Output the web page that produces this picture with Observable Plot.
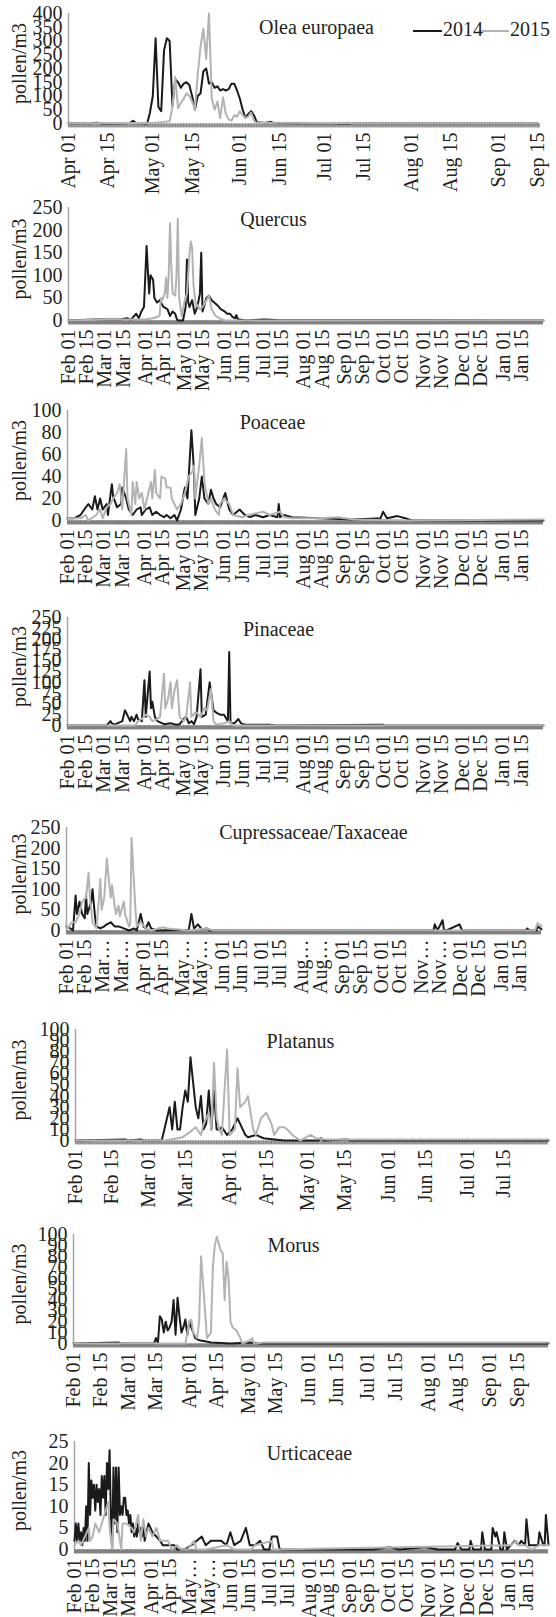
<!DOCTYPE html>
<html><head><meta charset="utf-8">
<script src="https://cdn.jsdelivr.net/npm/d3@7"></script>
<script src="https://cdn.jsdelivr.net/npm/@observablehq/plot@0.6"></script>
<style>
body{margin:0;background:#fff;}
#root{position:relative;width:556px;height:1617px;overflow:hidden;font-family:"Liberation Serif",serif;color:#231f20;}
</style></head><body><div id="root"></div>
<script>
// ---------- tick labels ----------
const yearTicks = ["2014-02-01","2014-02-15","2014-03-01","2014-03-15","2014-04-01","2014-04-15","2014-05-01","2014-05-15","2014-06-01","2014-06-15","2014-07-01","2014-07-15","2014-08-01","2014-08-15","2014-09-01","2014-09-15","2014-10-01","2014-10-15","2014-11-01","2014-11-15","2014-12-01","2014-12-15","2015-01-01","2015-01-15"];
const yearLabels = ["Feb 01","Feb 15","Mar 01","Mar 15","Apr 01","Apr 15","May 01","May 15","Jun 01","Jun 15","Jul 01","Jul 15","Aug 01","Aug 15","Sep 01","Sep 15","Oct 01","Oct 15","Nov 01","Nov 15","Dec 01","Dec 15","Jan 01","Jan 15"];
const cupressLabels = ["Feb 01","Feb 15","Mar…","Mar…","Apr 01","Apr 15","May…","May…","Jun 01","Jun 15","Jul 01","Jul 15","Aug…","Aug…","Sep 01","Sep 15","Oct 01","Oct 15","Nov…","Nov…","Dec 01","Dec 15","Jan 01","Jan 15"];
const urticLabels = ["Feb 01","Feb 15","Mar 01","Mar 15","Apr 01","Apr 15","May…","May…","Jun 01","Jun 15","Jul 01","Jul 15","Aug 01","Aug 15","Sep 01","Sep 15","Oct 01","Oct 15","Nov 01","Nov 15","Dec 01","Dec 15","Jan 01","Jan 15"];
const oleaTicks = ["2014-04-01","2014-04-15","2014-05-01","2014-05-15","2014-06-01","2014-06-15","2014-07-01","2014-07-15","2014-08-01","2014-08-15","2014-09-01","2014-09-15"];
const oleaLabels = ["Apr 01","Apr 15","May 01","May 15","Jun 01","Jun 15","Jul 01","Jul 15","Aug 01","Aug 15","Sep 01","Sep 15"];
const platanusTicks = yearTicks.slice(0, 12);
const platanusLabels = yearLabels.slice(0, 12);
const morusTicks = yearTicks.slice(0, 16);
const morusLabels = yearLabels.slice(0, 16);

// ---------- y ticks ----------
const oleaY = [0,50,100,150,200,250,300,350,400];
const quercusY = [0,50,100,150,200,250];
const poaceaeY = [0,20,40,60,80,100];
const pinaceaeY = [0,25,50,75,100,125,150,175,200,225,250];
const cupressY = [0,50,100,150,200,250];
const platanusY = [0,10,20,30,40,50,60,70,80,90,100];
const morusY = [0,10,20,30,40,50,60,70,80,90,100];
const urticY = [0,5,10,15,20,25];

// ---------- series: [day since season start, pollen/m3] ----------
const olea2014 = [[0,0],[8,1],[10,3],[12,0],[20,1],[22,3],[23,10],[24,2],[28,0],[29,40],[30,100],[31,310],[32,60],[33,45],[34,265],[35,310],[36,300],[37,65],[38,160],[39,150],[40,130],[41,145],[42,150],[43,140],[44,100],[45,50],[46,100],[47,110],[48,190],[49,200],[50,145],[51,150],[52,130],[53,135],[54,120],[55,125],[56,120],[57,125],[58,145],[59,145],[60,120],[61,90],[62,50],[63,20],[64,35],[65,45],[66,30],[67,5],[70,2],[72,6],[73,2],[80,1],[95,2],[96,0],[167,0]];
const olea2015 = [[0,0],[15,2],[30,2],[33,5],[36,8],[37,60],[38,170],[39,55],[40,75],[41,90],[42,110],[43,100],[44,80],[45,50],[46,180],[47,280],[48,345],[49,235],[50,400],[51,90],[52,50],[53,80],[54,20],[55,95],[56,35],[57,15],[58,10],[59,30],[60,25],[61,45],[62,30],[63,20],[64,25],[65,40],[66,10],[67,2],[75,3],[90,2],[100,3],[101,0],[167,0]];
const quercus2014 = [[0,0],[20,2],[40,2],[45,5],[48,2],[52,15],[54,5],[56,20],[58,30],[60,165],[61,110],[62,60],[63,100],[64,95],[65,90],[66,50],[67,45],[68,40],[70,45],[73,30],[76,25],[78,10],[80,20],[82,15],[83,5],[84,0],[88,0],[90,30],[91,135],[92,40],[93,30],[95,45],[97,15],[99,30],[101,60],[102,150],[103,20],[104,30],[106,50],[108,55],[110,45],[112,40],[114,35],[117,25],[120,20],[122,15],[124,15],[126,8],[128,5],[129,12],[130,3],[136,0],[150,2],[160,1],[365,0]];
const quercus2015 = [[0,0],[30,2],[60,3],[65,5],[70,10],[71,50],[72,45],[74,60],[75,95],[76,50],[77,100],[78,215],[79,120],[80,60],[82,55],[83,100],[84,225],[85,50],[87,10],[89,40],[91,60],[93,150],[94,175],[95,160],[96,80],[98,30],[99,35],[101,25],[103,30],[105,40],[107,50],[108,55],[110,25],[112,15],[113,10],[116,5],[120,0],[365,0]];
const poaceae2014 = [[0,2],[5,2],[10,5],[14,12],[16,15],[19,10],[21,22],[23,10],[25,20],[27,10],[30,15],[31,5],[34,33],[35,22],[38,12],[41,15],[42,30],[45,20],[47,10],[50,5],[53,10],[56,12],[57,5],[60,10],[63,12],[65,5],[68,8],[71,5],[74,3],[76,5],[79,2],[82,5],[84,0],[87,10],[90,30],[92,20],[95,82],[97,45],[98,5],[101,20],[103,40],[105,20],[108,15],[110,28],[112,20],[114,15],[117,12],[120,22],[121,25],[124,10],[127,5],[132,10],[136,5],[140,3],[144,5],[150,3],[155,5],[161,3],[162,15],[163,3],[166,5],[172,3],[193,2],[220,1],[240,2],[242,8],[245,2],[253,4],[259,2],[264,0],[365,0]];
const poaceae2015 = [[0,2],[10,2],[14,5],[16,0],[22,5],[25,10],[27,2],[30,12],[33,15],[35,20],[38,25],[40,33],[42,10],[45,65],[46,20],[49,5],[50,35],[52,15],[53,35],[55,20],[57,25],[59,10],[61,20],[64,35],[65,20],[67,46],[68,25],[71,20],[72,40],[75,38],[76,30],[79,30],[80,20],[82,15],[84,10],[87,15],[90,25],[93,40],[96,45],[97,50],[98,20],[101,50],[103,75],[105,35],[108,15],[110,20],[113,10],[116,5],[117,15],[120,20],[124,15],[127,5],[134,3],[139,5],[150,8],[155,5],[163,8],[166,3],[172,2],[193,2],[207,3],[220,1],[264,0],[365,1]];
const pinaceae2014 = [[0,0],[30,0],[33,10],[34,5],[36,2],[42,10],[44,35],[45,30],[48,10],[49,20],[51,10],[53,25],[54,15],[57,10],[59,105],[60,20],[63,125],[64,40],[65,55],[67,20],[69,10],[74,3],[79,5],[83,2],[86,3],[89,15],[91,20],[93,5],[95,10],[97,3],[99,20],[102,130],[103,20],[106,25],[109,100],[112,35],[114,30],[117,25],[120,25],[123,10],[124,170],[125,5],[128,5],[131,15],[133,5],[136,2],[155,2],[160,0],[242,2],[243,0],[365,0]];
const pinaceae2015 = [[0,0],[52,0],[54,10],[57,15],[60,25],[63,20],[65,10],[69,15],[71,20],[74,120],[75,40],[77,60],[79,100],[80,40],[82,80],[84,105],[86,20],[89,10],[91,20],[94,100],[95,20],[98,30],[99,30],[102,20],[105,40],[107,35],[110,85],[112,10],[114,2],[120,5],[124,10],[127,0],[365,0]];
const cupress2014 = [[0,10],[3,5],[5,0],[7,85],[8,40],[10,70],[12,40],[14,30],[15,85],[16,40],[18,60],[19,70],[20,100],[22,30],[23,10],[26,5],[29,10],[31,15],[34,20],[37,10],[40,10],[44,5],[48,0],[52,5],[54,0],[57,40],[59,10],[61,5],[63,20],[65,5],[69,0],[94,2],[96,40],[98,5],[101,15],[104,3],[108,5],[110,0],[282,0],[283,15],[285,0],[289,25],[290,2],[292,0],[302,15],[304,0],[353,0],[354,5],[356,0],[361,0],[362,10],[365,3]];
const cupress2015 = [[0,15],[1,5],[4,20],[7,20],[10,40],[12,70],[15,80],[17,140],[18,80],[20,20],[23,5],[25,80],[26,125],[27,50],[29,80],[31,175],[32,140],[34,80],[35,110],[37,60],[38,40],[40,60],[41,35],[44,70],[45,40],[48,10],[49,15],[50,225],[53,50],[54,10],[57,20],[61,5],[65,0],[74,8],[78,5],[94,0],[108,5],[113,0],[360,0],[362,18],[365,10]];
const platanus2014 = [[0,0],[19,1],[20,0],[25,1],[26,0],[33,0],[34,10],[36,30],[37,10],[38,35],[39,10],[40,10],[41,30],[42,45],[43,35],[44,75],[46,30],[47,20],[48,40],[49,10],[50,15],[51,45],[52,10],[53,45],[54,10],[55,10],[56,12],[58,5],[60,10],[62,20],[63,15],[65,5],[66,3],[69,5],[72,2],[76,1],[80,0],[93,0],[94,2],[95,0],[104,1],[105,0],[181,0]];
const platanus2015 = [[0,0],[34,0],[39,2],[41,3],[44,8],[46,12],[48,5],[49,15],[51,25],[52,10],[53,70],[54,20],[55,10],[56,5],[58,82],[59,5],[61,10],[62,65],[63,30],[65,35],[66,40],[68,10],[69,5],[71,20],[73,25],[75,15],[76,5],[78,12],[80,12],[81,10],[83,5],[86,0],[90,5],[92,2],[96,1],[104,1],[181,1]];
const morus2014 = [[0,0],[23,1],[24,0],[41,0],[42,5],[43,0],[44,25],[45,22],[46,10],[47,20],[48,12],[49,15],[50,20],[51,40],[52,8],[53,42],[54,25],[55,10],[56,15],[57,22],[58,8],[59,20],[60,15],[61,10],[62,5],[64,3],[67,2],[70,1],[80,0],[90,1],[95,0],[242,0]];
const morus2015 = [[0,0],[57,0],[59,20],[60,22],[61,10],[63,5],[64,20],[65,80],[67,30],[68,5],[70,10],[71,70],[72,90],[73,98],[75,85],[76,83],[77,40],[78,75],[79,60],[80,20],[81,15],[83,12],[85,5],[86,0],[90,3],[91,5],[92,0],[97,1],[242,1]];
const urtic2014 = [[0,2],[1,6],[2,2],[3,6],[4,2],[5,4],[6,1],[7,5],[8,2],[9,10],[10,2],[11,20],[12,8],[13,16],[14,12],[15,15],[16,9],[17,15],[18,11],[19,14],[20,8],[21,17],[22,12],[23,17],[24,8],[25,20],[26,14],[27,23],[28,8],[29,0],[30,19],[31,6],[32,19],[33,4],[34,19],[35,8],[36,10],[37,8],[38,12],[39,12],[40,8],[41,9],[42,6],[43,8],[44,4],[45,6],[46,3],[47,5],[48,3],[49,6],[50,4],[51,5],[52,3],[53,6],[54,2],[57,6],[60,4],[63,3],[66,2],[68,1],[77,1],[79,0],[85,0],[90,1],[98,3],[101,1],[105,2],[109,2],[113,2],[117,1],[120,4],[123,1],[128,2],[132,5],[135,1],[139,1],[143,2],[146,0],[150,0],[152,3],[156,3],[158,0],[230,0],[243,0.5],[250,0],[270,0.5],[280,0],[293,0],[295,1.5],[298,0],[304,0],[305,2],[307,0],[313,0],[314,4],[316,0],[321,0],[322,5],[324,3],[325,4],[328,0],[330,0],[331,4],[333,0],[336,1],[339,2],[342,1],[344,2],[347,1],[348,7],[350,1],[352,1],[357,1],[358,4],[361,1],[362,1],[363,8],[365,1]];
const urtic2015 = [[0,1],[3,2],[5,1],[8,3],[11,5],[12,2],[14,3],[16,6],[19,4],[22,7],[25,10],[26,11],[27,5],[29,0],[30,7],[33,6],[36,0],[37,6],[40,6],[44,5],[46,4],[49,8],[51,2],[53,7],[55,3],[57,5],[60,3],[63,5],[66,2],[68,2],[72,2],[75,0],[79,1],[82,0],[87,0],[92,2],[94,0],[101,0],[117,1],[123,0],[136,0],[139,1],[152,2],[153,0],[336,1],[340,2],[342,1],[347,1],[352,0],[358,1],[365,1]];

// ---------- panel setup (layout) ----------
const panels = [
  {title:"Olea europaea", start:"2014-04-01", end:"2014-09-16", ticks:oleaTicks, labels:oleaLabels, yTicks:oleaY, s14:olea2014, s15:olea2015, left:68, right:540, top:13, zero:123, titleX:316, titleDy:20, legend:true, band:"#a3a3a3"},
  {title:"Quercus", start:"2014-02-01", end:"2015-02-01", ticks:yearTicks, labels:yearLabels, yTicks:quercusY, s14:quercus2014, s15:quercus2015, left:68, right:543, top:207, zero:320, titleX:273, titleDy:18, band:"#8c8c8c"},
  {title:"Poaceae", start:"2014-02-01", end:"2015-02-01", ticks:yearTicks, labels:yearLabels, yTicks:poaceaeY, s14:poaceae2014, s15:poaceae2015, left:67, right:543, top:410, zero:520, titleX:272, titleDy:18, band:"#8c8c8c"},
  {title:"Pinaceae", start:"2014-02-01", end:"2015-02-01", ticks:yearTicks, labels:yearLabels, yTicks:pinaceaeY, s14:pinaceae2014, s15:pinaceae2015, left:67, right:543, top:617, zero:725, titleX:278, titleDy:18, band:"#8c8c8c"},
  {title:"Cupressaceae/Taxaceae", start:"2014-02-01", end:"2015-02-01", ticks:yearTicks, labels:cupressLabels, yTicks:cupressY, s14:cupress2014, s15:cupress2015, left:66, right:541, top:827, zero:930, titleX:313, titleDy:11, band:"#8c8c8c"},
  {title:"Platanus", start:"2014-02-01", end:"2014-08-01", ticks:platanusTicks, labels:platanusLabels, yTicks:platanusY, s14:platanus2014, s15:platanus2015, left:75, right:548, top:1029, zero:1140, titleX:300, titleDy:18, band:"#a3a3a3"},
  {title:"Morus", start:"2014-02-01", end:"2014-10-01", ticks:morusTicks, labels:morusLabels, yTicks:morusY, s14:morus2014, s15:morus2015, left:73, right:548, top:1234, zero:1343, titleX:293, titleDy:17, band:"#8c8c8c"},
  {title:"Urticaceae", start:"2014-02-01", end:"2015-02-01", ticks:yearTicks, labels:urticLabels, yTicks:urticY, s14:urtic2014, s15:urtic2015, left:74, right:548, top:1441, zero:1549, titleX:309, titleDy:18, band:"#8c8c8c"}
];

const W = 556;
const FONT = "'Liberation Serif', 'Times New Roman', serif";
const TXT = "#231f20";
function parseDate(s){ const [y,m,d] = s.split("-").map(Number); return new Date(Date.UTC(y, m-1, d)); }
function series(start, pairs){ const s = parseDate(start); return pairs.map(([d,v]) => ({date: new Date(Date.UTC(s.getUTCFullYear(), s.getUTCMonth(), s.getUTCDate() + d)), v})); }

const root = document.getElementById("root");
panels.forEach(p => {
  const mT = 20, mB = 100;
  const h = p.zero - p.top;
  const x0 = parseDate(p.start), x1 = parseDate(p.end);
  const tickDates = p.ticks.map(parseDate);
  const labelMap = new Map(tickDates.map((d,i) => [+d, p.labels[i]]));
  const daily = d3.utcDay.range(x0, x1);
  const chart = Plot.plot({
    width: W, height: mT + h + mB,
    marginLeft: p.left, marginRight: W - p.right, marginTop: mT, marginBottom: mB,
    style: {background: "transparent", overflow: "visible", fontFamily: FONT, fontSize: "20px", color: TXT},
    x: {type: "utc", domain: [x0, x1], label: null},
    y: {domain: [0, p.yTicks[p.yTicks.length-1]], label: null},
    marks: [
      Plot.ruleX([x0], {stroke: "#a6a6a6", strokeWidth: 1.5}),
      Plot.axisY({ticks: p.yTicks, tickSize: 0, tickPadding: 6, label: null, fill: TXT, fontSize: 20}),
      Plot.ruleY([0], {stroke: p.band, strokeWidth: 4, dy: 2}),
      Plot.axisX({ticks: daily, tickSize: 4, tickFormat: () => "", stroke: "#7a7a7a", strokeWidth: 0.8, label: null}),
      Plot.axisX({ticks: tickDates, tickFormat: d => labelMap.get(+d), tickRotate: -90, tickSize: 0, tickPadding: 9, label: null, fill: TXT, fontSize: 20}),
      Plot.line(series(p.start, p.s14), {x: "date", y: "v", stroke: "#1a1a1a", strokeWidth: 2}),
      Plot.line(series(p.start, p.s15), {x: "date", y: "v", stroke: "#b3b3b3", strokeWidth: 2}),
      Plot.text([p.title], {frameAnchor: "top-left", dx: p.titleX - p.left, dy: p.titleDy, textAnchor: "middle", lineAnchor: "bottom", fill: TXT, fontSize: 20}),
      Plot.text(["pollen/m3"], {frameAnchor: "left", dx: 19 - p.left, dy: -5, rotate: -90, textAnchor: "middle", lineAnchor: "middle", fill: TXT, fontSize: 20})
    ]
  });
  chart.style.position = "absolute";
  chart.style.left = "0px";
  chart.style.top = (p.top - mT) + "px";
  root.appendChild(chart);

  if (p.legend) {
    const ns = "http://www.w3.org/2000/svg";
    const lg = document.createElementNS(ns, "svg");
    lg.setAttribute("width", W); lg.setAttribute("height", 50);
    lg.style.position = "absolute"; lg.style.left = "0px"; lg.style.top = "0px"; lg.style.overflow = "visible";
    const items = [{x1:413, x2:442, tx:443, label:"2014", color:"#1a1a1a"}, {x1:481, x2:509, tx:510, label:"2015", color:"#b3b3b3"}];
    items.forEach(it => {
      const ln = document.createElementNS(ns, "line");
      ln.setAttribute("x1", it.x1); ln.setAttribute("x2", it.x2); ln.setAttribute("y1", 31); ln.setAttribute("y2", 31);
      ln.setAttribute("stroke", it.color); ln.setAttribute("stroke-width", 2);
      lg.appendChild(ln);
      const t = document.createElementNS(ns, "text");
      t.setAttribute("x", it.tx); t.setAttribute("y", 36);
      t.setAttribute("font-family", FONT); t.setAttribute("font-size", 20); t.setAttribute("fill", TXT);
      t.textContent = it.label;
      lg.appendChild(t);
    });
    root.appendChild(lg);
  }
});
</script>
</body></html>
